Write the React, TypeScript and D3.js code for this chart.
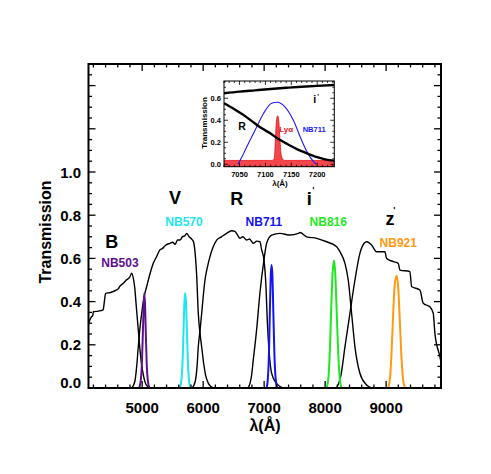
import React from "react";
import * as d3 from "d3";

// broad-band filter curves, [wavelength (Å), transmission]
const bandB = [
  [4120, 0.3], [4170, 0.33], [4190, 0.335], [4200, 0.353], [4280, 0.356], [4360, 0.362],
  [4380, 0.4], [4400, 0.438], [4480, 0.442], [4580, 0.454], [4610, 0.46], [4630, 0.469],
  [4690, 0.485], [4740, 0.5], [4800, 0.515], [4828, 0.532], [4860, 0.5], [4880, 0.46],
  [4900, 0.39], [4930, 0.29], [4960, 0.19], [4990, 0.11], [5020, 0.06], [5050, 0.025],
  [5090, 0.007], [5130, 0],
];
const bandV = [
  [4830, 0], [4880, 0.03], [4910, 0.1], [4936, 0.19], [4965, 0.28], [4992, 0.346],
  [5030, 0.42], [5074, 0.47], [5130, 0.53], [5182, 0.577], [5240, 0.61], [5292, 0.64],
  [5330, 0.645], [5380, 0.66], [5456, 0.67], [5500, 0.675], [5540, 0.665], [5580, 0.685],
  [5620, 0.685], [5660, 0.7], [5700, 0.705], [5730, 0.716], [5770, 0.7], [5810, 0.69],
  [5838, 0.68], [5870, 0.62], [5894, 0.52], [5920, 0.346], [5950, 0.25], [5976, 0.19],
  [6010, 0.11], [6040, 0.06], [6080, 0.025], [6120, 0.008], [6170, 0],
];
const bandR = [
  [5820, 0], [5870, 0.03], [5900, 0.1], [5920, 0.19], [5950, 0.27], [5976, 0.346],
  [6000, 0.42], [6030, 0.5], [6070, 0.56], [6112, 0.608], [6160, 0.65], [6222, 0.685],
  [6300, 0.7], [6385, 0.716], [6467, 0.728], [6520, 0.725], [6560, 0.71], [6603, 0.693],
  [6650, 0.7], [6713, 0.685], [6760, 0.69], [6822, 0.67], [6880, 0.68], [6931, 0.677],
  [6959, 0.64], [6997, 0.593], [7030, 0.47], [7051, 0.315], [7084, 0.16], [7123, 0.068],
  [7205, 0.02], [7313, 0],
];
const bandI = [
  [6740, 0], [6790, 0.05], [6822, 0.13], [6877, 0.27], [6931, 0.44], [6997, 0.593],
  [7041, 0.67], [7123, 0.708], [7260, 0.716], [7423, 0.708], [7560, 0.716], [7587, 0.72],
  [7697, 0.7], [7861, 0.693], [8025, 0.677], [8189, 0.654], [8243, 0.631], [8325, 0.577],
  [8379, 0.5], [8434, 0.346], [8489, 0.19], [8570, 0.068], [8680, 0.014], [8760, 0],
];
const bandZ = [
  [8189, 0], [8260, 0.06], [8325, 0.19], [8407, 0.346], [8489, 0.5], [8570, 0.623],
  [8640, 0.67], [8680, 0.677], [8762, 0.662], [8844, 0.631], [8980, 0.631], [9008, 0.6],
  [9117, 0.585], [9199, 0.577], [9226, 0.546], [9390, 0.539], [9418, 0.47], [9554, 0.454],
  [9609, 0.392], [9718, 0.376], [9773, 0.346], [9800, 0.253], [9882, 0.145], [9900, 0.12],
];

// narrow-band filter curves
const nb503 = [
  [4950, 0], [4975, 0.03], [4995, 0.11], [5010, 0.24], [5022, 0.36], [5035, 0.44],
  [5048, 0.38], [5060, 0.25], [5075, 0.11], [5095, 0.03], [5120, 0],
];
const nb570 = [
  [5620, 0], [5645, 0.04], [5665, 0.14], [5680, 0.28], [5693, 0.4], [5707, 0.44],
  [5720, 0.39], [5733, 0.27], [5750, 0.12], [5770, 0.03], [5795, 0],
];
const nb711 = [
  [7040, 0], [7060, 0.04], [7080, 0.17], [7095, 0.37], [7110, 0.53], [7123, 0.57],
  [7136, 0.52], [7150, 0.36], [7168, 0.16], [7190, 0.04], [7215, 0],
];
const nb816 = [
  [8025, 0], [8055, 0.05], [8080, 0.19], [8100, 0.37], [8122, 0.53], [8145, 0.59],
  [8168, 0.52], [8190, 0.35], [8215, 0.16], [8242, 0.04], [8270, 0],
];
const nb921 = [
  [9035, 0], [9065, 0.05], [9090, 0.17], [9115, 0.34], [9142, 0.48], [9172, 0.52],
  [9200, 0.46], [9225, 0.31], [9250, 0.15], [9278, 0.04], [9310, 0],
];

// inset: zoom around NB711
const insetI = [
  [7020, 0.645], [7050, 0.66], [7080, 0.672], [7110, 0.684], [7140, 0.695],
  [7170, 0.705], [7200, 0.713], [7233, 0.72],
];
const insetR = [
  [7020, 0.555], [7040, 0.5], [7060, 0.44], [7080, 0.37], [7093, 0.327], [7110, 0.28],
  [7123, 0.236], [7140, 0.19], [7160, 0.14], [7180, 0.1], [7200, 0.065], [7215, 0.045],
  [7233, 0.033],
];
const insetNB711 = [
  [7047, 0], [7055, 0.07], [7064, 0.16], [7080, 0.31], [7096, 0.46], [7112, 0.555],
  [7123, 0.564], [7138, 0.52], [7154, 0.4], [7167, 0.25], [7180, 0.115], [7193, 0.024],
  [7198, 0],
];
const lyaLine = [
  [7020, 0.035], [7110, 0.035], [7116, 0.04], [7118, 0.1], [7120, 0.3], [7122, 0.42],
  [7124, 0.44], [7126, 0.38], [7128, 0.22], [7130, 0.1], [7133, 0.05], [7137, 0.035],
  [7233, 0.035],
];

const FONT = "'Liberation Sans', Arial, Helvetica, sans-serif";

const App = () => {
  const x = d3.scaleLinear().domain([4120, 9900]).range([88.5, 441]);
  const y = d3.scaleLinear().domain([0, 1.5]).range([388, 64]);
  const line = d3
    .line<number[]>()
    .x((d) => x(d[0]))
    .y((d) => y(d[1]))
    .curve(d3.curveMonotoneX);

  const xi = d3.scaleLinear().domain([7020, 7233]).range([224, 334.3]);
  const yi = d3.scaleLinear().domain([-0.022, 0.757]).range([166.7, 81]);
  const lineI = d3
    .line<number[]>()
    .x((d) => xi(d[0]))
    .y((d) => yi(d[1]))
    .curve(d3.curveMonotoneX);
  const areaI = d3
    .area<number[]>()
    .x((d) => xi(d[0]))
    .y0(yi(-0.022))
    .y1((d) => yi(d[1]))
    .curve(d3.curveMonotoneX);

  const [x0, x1] = x.range();
  const [yb, yt] = y.range();
  const [ix0, ix1] = xi.range();
  const [iyb, iyt] = yi.range();

  const broad = [bandB, bandV, bandR, bandI, bandZ];
  const narrow = [
    { d: nb503, c: "#5e0f8c" },
    { d: nb570, c: "#1ee6ee" },
    { d: nb711, c: "#1414f0" },
    { d: nb816, c: "#1ee81e" },
    { d: nb921, c: "#ff9a10" },
  ];

  const big = { fontFamily: FONT, fontWeight: "bold", fontSize: 18 };
  const small = { fontFamily: FONT, fontWeight: "bold", fontSize: 12 };

  return (
    <svg width={491} height={474} style={{ position: "absolute", left: 0, top: 0 }}>
      <rect width={491} height={474} fill="#fff" />
      <defs>
        <clipPath id="main">
          <rect x={x0} y={yt} width={x1 - x0} height={yb - yt} />
        </clipPath>
        <clipPath id="ins">
          <rect x={ix0} y={iyt} width={ix1 - ix0} height={iyb - iyt} />
        </clipPath>
      </defs>

      <g clipPath="url(#main)">
        {broad.map((b, i) => (
          <path key={i} d={line(b) || ""} fill="none" stroke="#000" strokeWidth={1.4} />
        ))}
        {narrow.map((n, i) => (
          <path key={i} d={line(n.d) || ""} fill="none" stroke={n.c} strokeWidth={2} />
        ))}
      </g>

      {/* main frame and ticks */}
      <rect x={x0} y={yt} width={x1 - x0} height={yb - yt} fill="none" stroke="#000" strokeWidth={2} />
      {x.ticks(30).map((t) => {
        const major = t % 1000 === 0;
        const l = major ? 7 : 3.5;
        return (
          <g key={"x" + t} stroke="#000" strokeWidth={1.3}>
            <line x1={x(t)} x2={x(t)} y1={yb} y2={yb - l} />
            <line x1={x(t)} x2={x(t)} y1={yt} y2={yt + l} />
          </g>
        );
      })}
      {y.ticks(30).map((t) => {
        const major = Math.abs(t * 5 - Math.round(t * 5)) < 1e-6;
        const l = major ? 7 : 3.5;
        return (
          <g key={"y" + t} stroke="#000" strokeWidth={1.3}>
            <line x1={x0} x2={x0 + l} y1={y(t)} y2={y(t)} />
            <line x1={x1} x2={x1 - l} y1={y(t)} y2={y(t)} />
          </g>
        );
      })}
      {x.ticks(6).map((t) => (
        <text key={"xl" + t} x={x(t)} y={413} textAnchor="middle" style={{ ...big, fontSize: 15 }}>
          {t}
        </text>
      ))}
      {y.ticks(8)
        .filter((t) => t <= 1.0001)
        .map((t) => (
          <text
            key={"yl" + t}
            x={81}
            y={y(t) + (t === 0 ? -0.5 : 5.5)}
            textAnchor="end"
            style={{ ...big, fontSize: 15 }}
          >
            {d3.format(".1f")(t)}
          </text>
        ))}
      <text
        transform="translate(51,232) rotate(-90)"
        textAnchor="middle"
        style={{ ...big, fontSize: 16 }}
      >
        Transmission
      </text>
      <text x={265} y={431} textAnchor="middle" style={{ ...big, fontSize: 16 }}>
        λ(Å)
      </text>

      {/* filter labels */}
      <text x={x(4500)} y={y(0.648)} textAnchor="middle" style={big}>B</text>
      <text x={x(4636)} y={y(0.558)} textAnchor="middle" style={small} fill="#5e0f8c">NB503</text>
      <text x={x(5538)} y={y(0.852)} textAnchor="middle" style={big}>V</text>
      <text x={x(5686)} y={y(0.75)} textAnchor="middle" style={small} fill="#1ee6ee">NB570</text>
      <text x={x(6550)} y={y(0.847)} textAnchor="middle" style={big}>R</text>
      <text x={x(6997)} y={y(0.75)} textAnchor="middle" style={small} fill="#1414f0">NB711</text>
      <text x={x(7740)} y={y(0.847)} textAnchor="middle" style={big}>i</text>
      <text x={x(7790)} y={y(0.903)} style={{ ...small, fontSize: 9 }}>'</text>
      <text x={x(8051)} y={y(0.75)} textAnchor="middle" style={small} fill="#1ee81e">NB816</text>
      <text x={x(9063)} y={y(0.755)} textAnchor="middle" style={big}>z</text>
      <text x={x(9115)} y={y(0.81)} style={{ ...small, fontSize: 9 }}>'</text>
      <text x={x(9199)} y={y(0.653)} textAnchor="middle" style={small} fill="#ff9a10">NB921</text>

      {/* inset */}
      <rect x={ix0} y={iyt} width={ix1 - ix0} height={iyb - iyt} fill="#fff" />
      <g clipPath="url(#ins)">
        <path d={areaI(lyaLine) || ""} fill="#f4474b" stroke="#e8101a" strokeWidth={0.8} />
        <path d={lineI(insetNB711) || ""} fill="none" stroke="#1a1aff" strokeWidth={1.1} />
        <path d={lineI(insetI) || ""} fill="none" stroke="#000" strokeWidth={2.4} />
        <path d={lineI(insetR) || ""} fill="none" stroke="#000" strokeWidth={2.4} />
      </g>
      <rect x={ix0} y={iyt} width={ix1 - ix0} height={iyb - iyt} fill="none" stroke="#000" strokeWidth={1} />
      {xi.ticks(20).map((t) => {
        const l = t % 50 === 0 ? 4 : 2;
        return (
          <g key={"ix" + t} stroke="#000" strokeWidth={0.8}>
            <line x1={xi(t)} x2={xi(t)} y1={iyb} y2={iyb - l} />
            <line x1={xi(t)} x2={xi(t)} y1={iyt} y2={iyt + l} />
          </g>
        );
      })}
      {yi.ticks(16).map((t) => {
        const major = Math.abs(t * 5 - Math.round(t * 5)) < 1e-6;
        const l = major ? 4 : 2;
        return (
          <g key={"iy" + t} stroke="#000" strokeWidth={0.8}>
            <line x1={ix0} x2={ix0 + l} y1={yi(t)} y2={yi(t)} />
            <line x1={ix1} x2={ix1 - l} y1={yi(t)} y2={yi(t)} />
          </g>
        );
      })}
      {xi.ticks(4).map((t) => (
        <text key={"ixl" + t} x={xi(t)} y={177} textAnchor="middle" style={{ ...small, fontSize: 7.5 }}>
          {t}
        </text>
      ))}
      {yi.ticks(4).map((t) => (
        <text key={"iyl" + t} x={221} y={yi(t) + 2.8} textAnchor="end" style={{ ...small, fontSize: 7.5 }}>
          {d3.format(".1f")(t)}
        </text>
      ))}
      <text
        transform="translate(207,123) rotate(-90)"
        textAnchor="middle"
        style={{ ...small, fontSize: 8 }}
      >
        Transmission
      </text>
      <text x={280} y={186} textAnchor="middle" style={{ ...small, fontSize: 8 }}>
        λ(Å)
      </text>
      <text x={xi(7055)} y={yi(0.315)} textAnchor="middle" style={{ ...small, fontSize: 10.5 }}>R</text>
      <text x={xi(7195)} y={yi(0.555)} textAnchor="middle" style={{ ...small, fontSize: 10.5 }}>i</text>
      <text x={xi(7200)} y={yi(0.594)} style={{ ...small, fontSize: 7 }}>'</text>
      <text x={xi(7140)} y={yi(0.295)} textAnchor="middle" style={{ ...small, fontSize: 8 }} fill="#e8101a">Lyα</text>
      <text x={xi(7194)} y={yi(0.295)} textAnchor="middle" style={{ ...small, fontSize: 7.5 }} fill="#1a1aff">NB711</text>
    </svg>
  );
};

export default App;
